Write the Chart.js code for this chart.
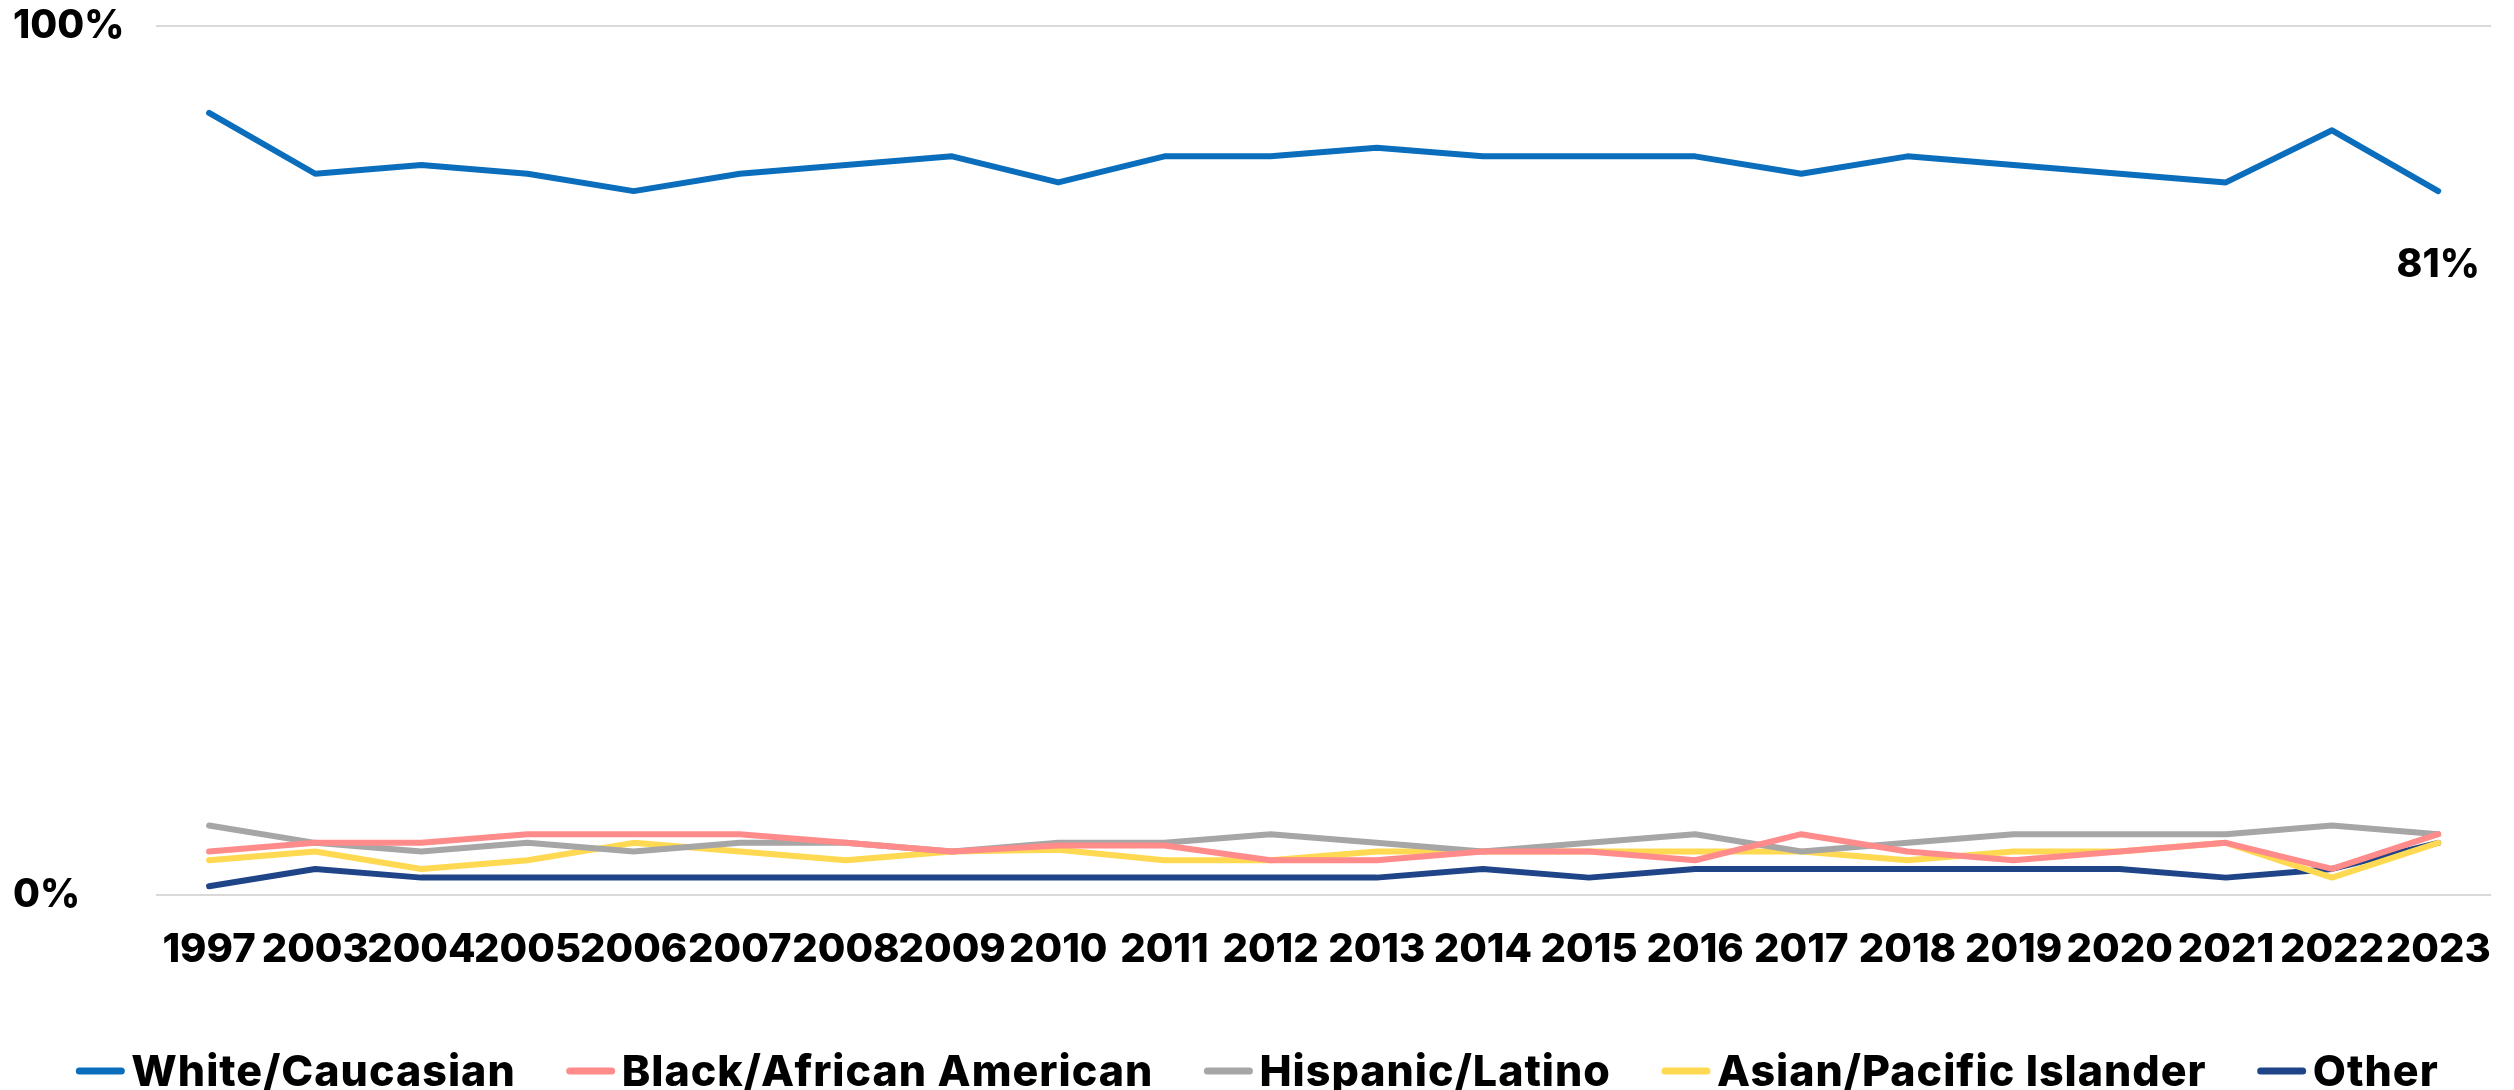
<!DOCTYPE html>
<html>
<head>
<meta charset="utf-8">
<script src="https://cdn.jsdelivr.net/npm/chart.js@4.4.1/dist/chart.umd.min.js"></script>
<style>
  html, body { margin: 0; padding: 0; background: #fff; }
  #wrap { width: 2514px; height: 1090px; }
</style>
</head>
<body>
<div id="wrap"><canvas id="myChart" width="2514" height="1090"></canvas></div>
<script>
// values (percent)
const years = ["1997", "2003", "2004", "2005", "2006", "2007", "2008", "2009", "2010", "2011", "2012",
	"2013", "2014", "2015", "2016", "2017", "2018", "2019", "2020", "2021", "2022", "2023"];
const white = [90, 83, 84, 83, 81, 83, 84, 85, 82, 85, 85, 86, 85, 85, 85, 83, 85, 84, 83, 82, 88, 81];
const black = [5, 6, 6, 7, 7, 7, 6, 5, 5.7, 5.7, 4, 4, 5, 5, 4, 7, 5, 4, 5, 6, 3, 7];
const hispanic = [8, 6, 5, 6, 5, 6, 6, 5, 6, 6, 7, 6, 5, 6, 7, 5, 6, 7, 7, 7, 8, 7];
const asian = [4, 5, 3, 4, 6, 5, 4, 5, 5.2, 4, 4, 5, 5, 5, 5, 5, 4, 5, 5, 6, 2, 6];
const other = [1, 3, 2, 2, 2, 2, 2, 2, 2, 2, 2, 2, 3, 2, 3, 3, 3, 3, 3, 2, 3, 6];
const yTicks = [0, 100];

const FONT = "Inter, 'Open Sans', sans-serif";

function line(label, data, color) {
	return {
		label: label,
		data: data,
		borderColor: color,
		backgroundColor: color,
		borderWidth: 6,
		pointRadius: 0,
		tension: 0,
		borderCapStyle: 'round',
		borderJoinStyle: 'round'
	};
}

// last value of the white series written under its end point
const endLabel = {
	id: 'endLabel',
	afterDatasetsDraw(chart) {
		const ctx = chart.ctx;
		const last = white.length - 1;
		const x = chart.scales.x.getPixelForValue(last);
		const y = chart.scales.y.getPixelForValue(white[last]);
		ctx.save();
		ctx.font = "800 39px " + FONT;
		ctx.fillStyle = "#000";
		ctx.textAlign = "center";
		ctx.textBaseline = "middle";
		ctx.fillText(white[last] + "%", x, y + 74);
		ctx.restore();
	}
};

// legend row along the bottom, line swatches like the original
const lineLegend = {
	id: 'lineLegend',
	afterDraw(chart) {
		const ctx = chart.ctx;
		const sets = chart.data.datasets;
		const swatch = 50, gapText = 6, gapItem = 50, cy = 1071;
		ctx.save();
		ctx.font = "800 43px " + FONT;
		if ('letterSpacing' in ctx) ctx.letterSpacing = "1px";
		const widths = sets.map(ds => ctx.measureText(ds.label).width);
		let total = 0;
		widths.forEach(w => { total += swatch + gapText + w; });
		total += gapItem * (sets.length - 1);
		let x = (chart.width - total) / 2;
		ctx.textBaseline = "middle";
		ctx.textAlign = "left";
		sets.forEach((ds, i) => {
			ctx.strokeStyle = ds.borderColor;
			ctx.lineWidth = 7;
			ctx.lineCap = "round";
			ctx.beginPath();
			ctx.moveTo(x + 4, cy);
			ctx.lineTo(x + swatch - 4, cy);
			ctx.stroke();
			ctx.fillStyle = "#000";
			ctx.fillText(ds.label, x + swatch + gapText, cy + 2);
			x += swatch + gapText + widths[i] + gapItem;
		});
		ctx.restore();
	}
};

new Chart("myChart", {
	type: "line",
	data: {
		labels: years,
		datasets: [
			line("White/Caucasian", white, "#0A6EBD"),
			line("Black/African American", black, "#FF8B8B"),
			line("Hispanic/Latino", hispanic, "#A6A6A6"),
			line("Asian/Pacific Islander", asian, "#FFD951"),
			line("Other", other, "#1F4588")
		]
	},
	plugins: [endLabel, lineLegend],
	options: {
		responsive: false,
		animation: false,
		layout: { padding: { top: 26, right: 15, left: 13, bottom: 70 } },
		plugins: {
			tooltip: { enabled: false },
			legend: { display: false }
		},
		scales: {
			x: {
				offset: true,
				grid: { display: false },
				border: { display: false },
				ticks: {
					autoSkip: false,
					maxRotation: 0,
					minRotation: 0,
					color: "#000",
					padding: 23,
					font: { family: FONT, size: 40, weight: "800" }
				},
				afterFit(scale) { scale.height = 125; }
			},
			y: {
				min: 0,
				max: 100,
				afterBuildTicks(scale) { scale.ticks = yTicks.map(v => ({ value: v })); },
				grid: { color: "#D9D9D9", lineWidth: 2, drawTicks: false },
				border: { display: false },
				ticks: {
					color: "#000",
					padding: 0,
					crossAlign: "far",
					font: { family: FONT, size: 39, weight: "800", lineHeight: 1 },
					callback: v => v + "%"
				},
				afterFit(scale) { scale.width = 143; }
			}
		}
	}
});
</script>
</body>
</html>
